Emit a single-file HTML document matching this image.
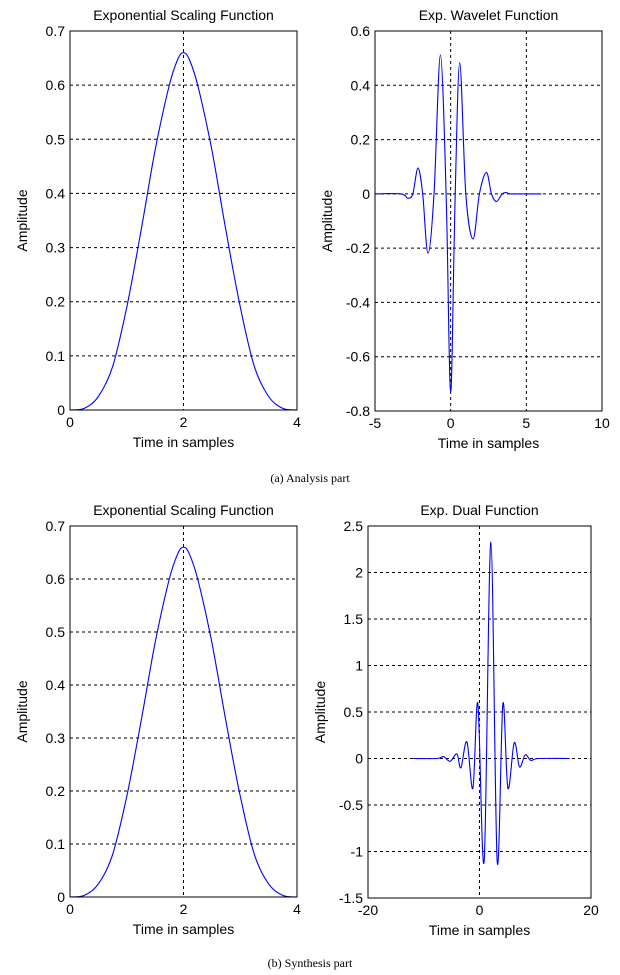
<!DOCTYPE html>
<html><head><meta charset="utf-8"><style>
html,body{margin:0;padding:0;background:#fff;}
svg{display:block;font-family:"Liberation Sans",sans-serif;}
</style></head><body>
<svg id="fig" width="620" height="975" viewBox="0 0 620 975">
<text x="310" y="482" text-anchor="middle" font-family="Liberation Serif" font-size="12">(a) Analysis part</text>
<text x="310" y="967" text-anchor="middle" font-family="Liberation Serif" font-size="12">(b) Synthesis part</text>
</svg>
<script>
// ---- data ----
const scaleX = [0,0.25,0.5,0.75,1,1.25,1.5,1.75,1.9,2,2.1,2.25,2.5,2.75,3,3.25,3.5,3.75,4];
const scaleY = [0,0.003,0.025,0.08,0.19,0.33,0.48,0.6,0.648,0.66,0.648,0.6,0.48,0.33,0.19,0.08,0.025,0.003,0];
const waveX = [-5,-3.27,-2.83,-2.5,-2.16,-1.85,-1.5,-1.1,-0.68,-0.3,-0.1,0,0.1,0.3,0.6,1.0,1.48,1.9,2.36,2.7,3.03,3.4,3.69,4.0,6.0];
const waveY = [0,0,-0.016,0,0.095,0,-0.219,0,0.512,0,-0.58,-0.728,-0.58,0,0.484,0,-0.166,0,0.079,0,-0.028,0,0.005,0,0];
const dualX = [-11.9,-7.6,-6.46,-5.25,-4.05,-3.34,-2.26,-1.18,-0.29,0.84,2.04,3.17,4.19,5.09,6.23,7.18,8.2,9.2,10.6,16.2];
const dualY = [0,0,0.02,-0.03,0.05,-0.1,0.18,-0.32,0.59,-1.1,2.33,-1.11,0.59,-0.32,0.17,-0.09,0.04,-0.02,0,0];
const scaleXTicks = [0,2,4], scaleYTicks = [0,0.1,0.2,0.3,0.4,0.5,0.6,0.7];
const waveXTicks = [-5,0,5,10], waveYTicks = [0.6,0.4,0.2,0,-0.2,-0.4,-0.6,-0.8];
const dualXTicks = [-20,0,20], dualYTicks = [2.5,2,1.5,1,0.5,0,-0.5,-1,-1.5];

const NS = "http://www.w3.org/2000/svg";
const svg = document.getElementById('fig');
function mk(tag, attrs, parent){const e=document.createElementNS(NS,tag);for(const k in attrs)e.setAttribute(k,attrs[k]);(parent||svg).appendChild(e);return e;}
function fmt(v){return String(Math.round(v*10)/10);}
function smoothPath(pts){
  let d='M'+pts[0][0].toFixed(1)+','+pts[0][1].toFixed(1);
  for(let i=0;i<pts.length-1;i++){
    const p0=pts[Math.max(0,i-1)], p1=pts[i], p2=pts[i+1], p3=pts[Math.min(pts.length-1,i+2)];
    const c1=[p1[0]+(p2[0]-p0[0])/6, p1[1]+(p2[1]-p0[1])/6];
    const c2=[p2[0]-(p3[0]-p1[0])/6, p2[1]-(p3[1]-p1[1])/6];
    d+='C'+c1[0].toFixed(1)+','+c1[1].toFixed(1)+' '+c2[0].toFixed(1)+','+c2[1].toFixed(1)+' '+p2[0].toFixed(1)+','+p2[1].toFixed(1);
  }
  return d;
}

function plot(name, box, xd, yd, xt, yt, xs, ys, title){
  const g = mk('g',{});
  
  
  const X = v => box.x0 + (v - xd[0])/(xd[1]-xd[0])*(box.x1-box.x0);
  const Y = v => box.y1 - (v - yd[0])/(yd[1]-yd[0])*(box.y1-box.y0);
  xt.forEach(t=>{ const px=X(t); if(Math.abs(px-box.x0)>1&&Math.abs(px-box.x1)>1){
    const l=mk('line',{x1:px,x2:px,y1:box.y0,y2:box.y1,stroke:'#000','stroke-dasharray':'3,3','stroke-width':1},g);
    
    }});
  yt.forEach(t=>{ const py=Y(t); if(Math.abs(py-box.y0)>1&&Math.abs(py-box.y1)>1){
    const l=mk('line',{x1:box.x0,x2:box.x1,y1:py,y2:py,stroke:'#000','stroke-dasharray':'3,3','stroke-width':1},g);
    
    }});
  const pts = xs.map((v,i)=>[X(v),Y(ys[i])]);
  const p=mk('path',{d:smoothPath(pts),fill:'none',stroke:'#0000ff','stroke-width':1.1,'stroke-linejoin':'round'},g);
  
  
  const r=mk('rect',{x:box.x0,y:box.y0,width:box.x1-box.x0,height:box.y1-box.y0,fill:'none',stroke:'#000','stroke-width':1},g);
  
  
  xt.forEach(t=>{ const tx=mk('text',{x:X(t),y:box.y1+17,'text-anchor':'middle','font-size':14},g); tx.textContent=fmt(t);
    
    });
  yt.forEach(t=>{ const tx=mk('text',{x:box.x0-5,y:Y(t)+5,'text-anchor':'end','font-size':14},g); tx.textContent=fmt(t);
    
    });
  const ti=mk('text',{x:(box.x0+box.x1)/2,y:box.y0-11,'text-anchor':'middle','font-size':14},g); ti.textContent=title;
  
  
  const xl=mk('text',{x:(box.x0+box.x1)/2,y:box.y1+37,'text-anchor':'middle','font-size':14},g); xl.textContent='Time in samples';
  
  
  const cy=(box.y0+box.y1)/2, cx=box.x0-43;
  const yl=mk('text',{x:cx,y:cy,'text-anchor':'middle','font-size':14,transform:`rotate(-90 ${cx} ${cy})`},g); yl.textContent='Amplitude';
  
  
}
plot('analysis-scaling-chart',{x0:70,x1:297,y0:31,y1:410},[0,4],[0,0.7],scaleXTicks,scaleYTicks,scaleX,scaleY,'Exponential Scaling Function');
plot('analysis-wavelet-chart',{x0:375,x1:602,y0:31,y1:411},[-5,10],[-0.8,0.6],waveXTicks,waveYTicks,waveX,waveY,'Exp. Wavelet Function');
plot('synthesis-scaling-chart',{x0:70,x1:297,y0:526,y1:897},[0,4],[0,0.7],scaleXTicks,scaleYTicks,scaleX,scaleY,'Exponential Scaling Function');
plot('synthesis-dual-chart',{x0:368,x1:591,y0:526,y1:898},[-20,20],[-1.5,2.5],dualXTicks,dualYTicks,dualX,dualY,'Exp. Dual Function');
</script>
</body></html>
